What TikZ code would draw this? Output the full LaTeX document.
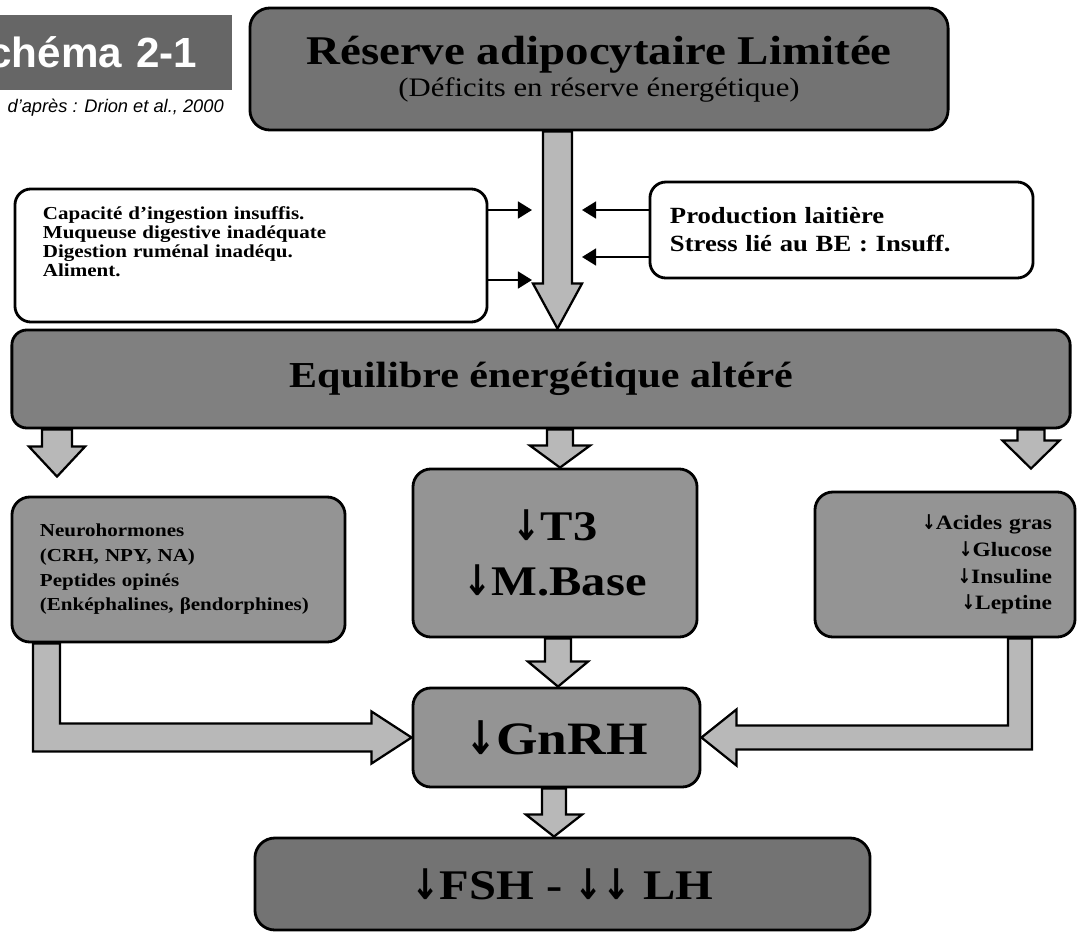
\documentclass[tikz,border=0pt]{standalone}
\usepackage{fontspec}
\setmainfont{Liberation Serif}[FakeStretch=1.15]
\setsansfont{Liberation Sans}
\newfontfamily\arrowfont{DejaVu Sans}[FakeStretch=0.8]
\usepackage{tikz}
\usetikzlibrary{arrows.meta, calc, backgrounds, positioning}

\newcommand{\fs}[2]{\fontsize{#1}{#2}\selectfont}
\newcommand{\dn}{{\arrowfont\bfseries ↓}}
% fat grey arrow pointing down: x, upper anchor, lower anchor, half shaft, half head, head length
\newcommand{\fatdown}[6]{%
  \draw[fatarrow] (#1-#4,0 |- #2) -- ($(#1,0 |- #3)+(-#4,-#6)$) -- ++(#4-#5,0)
    -- (#1,0 |- #3) -- ($(#1,0 |- #3)+(#5,-#6)$) -- ++(#4-#5,0)
    -- (#1+#4,0 |- #2) -- cycle;}

\begin{document}
\begin{tikzpicture}[x=0.025cm, y=-0.025cm,
    darkbox/.style={draw, line width=2pt, fill=black!55, rounded corners=0.5cm, inner ysep=0pt},
    greybox/.style={draw, line width=2pt, fill=black!42, rounded corners=0.45cm, inner ysep=0pt},
    whitebox/.style={draw, line width=2pt, fill=white, rounded corners=0.4cm, inner ysep=0pt},
    fatarrow/.style={draw, line width=1.6pt, fill=black!28, line join=miter},
    feed/.style={-{Triangle[length=10pt, width=12pt]}, line width=1.5pt}]

        \useasboundingbox (0,0) rectangle (1077,934);
        \clip (0,0) rectangle (1077,934);

        % header
        \node[fill=black!60, text=white, font=\sffamily\bfseries\fs{30}{34}, text width=7cm, align=right,
              inner xsep=0.875cm, inner ysep=0pt, minimum height=1.875cm] (schema) at (57,52.5) {Schéma 2-1};
        \node[anchor=east, font=\sffamily\itshape\fs{13}{16}, inner sep=0pt] (source) at (224,108) {d'après : Drion et al., 2000};

        \node[darkbox, minimum width=17.45cm, minimum height=3.05cm, align=center, font=\fs{19}{23}] (reserve) at (599,69)
            {{\fs{29}{33}\bfseries Réserve adipocytaire Limitée}\\(Déficits en réserve énergétique)};

        \node[whitebox, text width=10.4cm, inner xsep=0.7cm, minimum height=3.325cm, align=left,
              font=\bfseries\fs{13}{13.5}] (causes) at (251,255.5)
            {Capacité d'ingestion  insuffis.\\Muqueuse digestive inadéquate\\Digestion ruménal inadéqu.\\Aliment.\\[6pt]\mbox{}};
        \node[whitebox, text width=8.575cm, inner xsep=0.5cm, minimum height=2.4cm, align=left,
              font=\bfseries\fs{16.5}{20}] (prod) at (841.5,230)
            {Production laitière\\Stress lié au BE : Insuff.};

        \node[darkbox, fill=black!50, rounded corners=0.375cm, minimum width=26.45cm, minimum height=2.45cm,
              font=\bfseries\fs{26}{30}] (equil) at (541,379) {Equilibre énergétique altéré};

        \node[greybox, text width=6.925cm, inner xsep=0.7cm, minimum height=3.625cm, align=left,
              font=\bfseries\fs{13}{17.5}] (neuro) at (178.5,569.5)
            {Neurohormones\\(CRH, NPY, NA)\\Peptides opinés\\(Enképhalines, βendorphines)};
        \node[greybox, minimum width=7.1cm, minimum height=4.2cm, align=center,
              font=\bfseries\fs{30}{39}] (t3) at (555,553) {\dn T3\\\dn M.Base};
        \node[greybox, text width=5.35cm, inner xsep=0.575cm, minimum height=3.625cm, align=right,
              font=\bfseries\fs{14.5}{19}] (acid) at (945,564.5)
            {\dn Acides gras\\\dn Glucose\\\dn Insuline\\\dn Leptine};

        \node[greybox, minimum width=7.175cm, minimum height=2.475cm, font=\bfseries\fs{33}{36}] (gnrh) at (556.5,737.5) {\dn GnRH};
        \node[darkbox, minimum width=15.375cm, minimum height=2.3cm, font=\bfseries\fs{30}{36}] (fsh) at (562.5,884) {\dn FSH  -  \dn\dn\ LH};

        % free ends of the thin arrows
        \coordinate (c1) at (532,210);
        \coordinate (c2) at (532,280);
        \coordinate (p1) at (582,210);
        \coordinate (p2) at (582,257);
        \coordinate (neurotip) at ($(neuro.north)+(-121.5,-19)$);
        \coordinate (acidtip) at ($(acid.north)+(86,-22)$);

        \draw[feed] (causes.east |- c1) -- (c1);
        \draw[feed] (causes.east |- c2) -- (c2);
        \draw[feed] (prod.west |- p1) -- (p1);
        \draw[feed] (prod.west |- p2) -- (p2);

        \begin{scope}[on background layer]
            \fill[white] (0,0) rectangle (1077,934);
            \fatdown{557.5}{reserve.south}{equil.north}{14.5}{24.5}{45}
            \fatdown{57}{equil.south}{neurotip}{15}{28}{30}
            \fatdown{560}{equil.south}{t3.north}{13}{30}{22}
            \fatdown{1031}{equil.south}{acidtip}{13.5}{28.5}{28}
            \fatdown{558}{t3.south}{gnrh.north}{13}{30}{25}
            \fatdown{554}{gnrh.south}{fsh.north}{12}{28}{22}
            % elbows into GnRH
            \draw[fatarrow] (33,0 |- neuro.south) -- ($(33,0 |- gnrh.west)+(0,14)$) -- ($(gnrh.west)+(-40,14)$)
                -- ++(0,12) -- (gnrh.west) -- ++(-40,-26) -- ++(0,12) -- ($(60,0 |- gnrh.west)+(0,-14)$)
                -- (60,0 |- neuro.south) -- cycle;
            \draw[fatarrow] (1032,0 |- acid.south) -- ($(1032,0 |- gnrh.east)+(0,12)$) -- ($(gnrh.east)+(35,12)$)
                -- ++(0,16) -- (gnrh.east) -- ++(35,-28) -- ++(0,16) -- ($(1008,0 |- gnrh.east)+(0,-12)$)
                -- (1008,0 |- acid.south) -- cycle;
        \end{scope}

    \end{tikzpicture}
\end{document}
